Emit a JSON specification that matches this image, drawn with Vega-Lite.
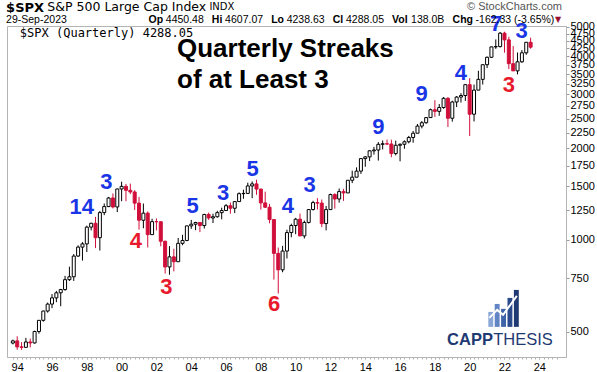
{
  "$schema": "https://vega.github.io/schema/vega-lite/v6.json",
  "width": 559,
  "height": 331,
  "autosize": {"type": "none"},
  "padding": {"left": 7, "top": 26, "right": 31, "bottom": 15},
  "background": "white",
  "config": {"view": {"stroke": "#b4b4b4", "strokeWidth": 1}, "font": "Liberation Sans"},
  "resolve": {"axis": {"x": "independent"}},
  "datasets": {
    "q": [
      {"t":1993.75,"o":458.93,"h":470.94,"l":454.36,"c":466.45},
      {"t":1994.00,"o":466.45,"h":482.85,"l":436.16,"c":445.77},
      {"t":1994.25,"o":445.77,"h":462.12,"l":435.86,"c":444.27},
      {"t":1994.50,"o":444.27,"h":477.14,"l":443.55,"c":462.69},
      {"t":1994.75,"o":462.69,"h":474.74,"l":444.18,"c":459.27},
      {"t":1995.00,"o":459.27,"h":503.90,"l":457.20,"c":500.71},
      {"t":1995.25,"o":500.71,"h":546.03,"l":492.63,"c":544.75},
      {"t":1995.50,"o":544.75,"h":586.01,"l":539.40,"c":584.41},
      {"t":1995.75,"o":584.41,"h":622.88,"l":577.30,"c":615.93},
      {"t":1996.00,"o":615.93,"h":664.23,"l":597.29,"c":645.50},
      {"t":1996.25,"o":645.50,"h":680.32,"l":624.84,"c":670.63},
      {"t":1996.50,"o":670.63,"h":690.88,"l":605.88,"c":687.31},
      {"t":1996.75,"o":687.31,"h":762.12,"l":681.40,"c":740.74},
      {"t":1997.00,"o":740.74,"h":817.04,"l":733.54,"c":757.12},
      {"t":1997.25,"o":757.12,"h":898.70,"l":733.54,"c":885.14},
      {"t":1997.50,"o":885.14,"h":960.32,"l":879.00,"c":947.28},
      {"t":1997.75,"o":947.28,"h":983.79,"l":855.27,"c":970.43},
      {"t":1998.00,"o":970.43,"h":1113.06,"l":912.83,"c":1101.75},
      {"t":1998.25,"o":1101.75,"h":1138.49,"l":1074.67,"c":1133.84},
      {"t":1998.50,"o":1133.84,"h":1190.58,"l":939.98,"c":1017.01},
      {"t":1998.75,"o":1017.01,"h":1244.93,"l":923.32,"c":1229.23},
      {"t":1999.00,"o":1229.23,"h":1316.55,"l":1205.46,"c":1286.37},
      {"t":1999.25,"o":1286.37,"h":1383.48,"l":1281.40,"c":1372.71},
      {"t":1999.50,"o":1372.71,"h":1420.33,"l":1268.37,"c":1282.71},
      {"t":1999.75,"o":1282.71,"h":1473.10,"l":1233.70,"c":1469.25},
      {"t":2000.00,"o":1469.25,"h":1552.87,"l":1339.40,"c":1498.58},
      {"t":2000.25,"o":1498.58,"h":1527.19,"l":1339.40,"c":1454.60},
      {"t":2000.50,"o":1454.60,"h":1530.09,"l":1413.89,"c":1436.51},
      {"t":2000.75,"o":1436.51,"h":1454.82,"l":1254.07,"c":1320.28},
      {"t":2001.00,"o":1320.28,"h":1383.37,"l":1081.19,"c":1160.33},
      {"t":2001.25,"o":1160.33,"h":1316.27,"l":1091.99,"c":1224.42},
      {"t":2001.50,"o":1224.42,"h":1239.78,"l":944.75,"c":1040.94},
      {"t":2001.75,"o":1040.94,"h":1173.62,"l":1037.46,"c":1148.08},
      {"t":2002.00,"o":1148.08,"h":1176.97,"l":1074.36,"c":1147.39},
      {"t":2002.25,"o":1147.39,"h":1147.84,"l":952.92,"c":989.82},
      {"t":2002.50,"o":989.82,"h":994.46,"l":775.68,"c":815.28},
      {"t":2002.75,"o":815.28,"h":954.28,"l":768.63,"c":879.82},
      {"t":2003.00,"o":879.82,"h":935.05,"l":788.90,"c":848.18},
      {"t":2003.25,"o":848.18,"h":1015.33,"l":847.85,"c":974.50},
      {"t":2003.50,"o":974.50,"h":1039.58,"l":960.84,"c":995.97},
      {"t":2003.75,"o":995.97,"h":1112.56,"l":990.36,"c":1111.92},
      {"t":2004.00,"o":1111.92,"h":1163.23,"l":1087.16,"c":1126.21},
      {"t":2004.25,"o":1126.21,"h":1146.34,"l":1076.32,"c":1140.84},
      {"t":2004.50,"o":1140.84,"h":1140.84,"l":1060.72,"c":1114.58},
      {"t":2004.75,"o":1114.58,"h":1217.90,"l":1090.19,"c":1211.92},
      {"t":2005.00,"o":1211.92,"h":1229.11,"l":1163.69,"c":1180.59},
      {"t":2005.25,"o":1180.59,"h":1219.59,"l":1136.15,"c":1191.33},
      {"t":2005.50,"o":1191.33,"h":1245.86,"l":1183.55,"c":1228.81},
      {"t":2005.75,"o":1228.81,"h":1275.80,"l":1168.20,"c":1248.29},
      {"t":2006.00,"o":1248.29,"h":1310.88,"l":1245.74,"c":1294.83},
      {"t":2006.25,"o":1294.83,"h":1326.70,"l":1219.29,"c":1270.20},
      {"t":2006.50,"o":1270.20,"h":1340.28,"l":1224.54,"c":1335.85},
      {"t":2006.75,"o":1335.85,"h":1431.81,"l":1331.95,"c":1418.30},
      {"t":2007.00,"o":1418.30,"h":1461.57,"l":1363.98,"c":1420.86},
      {"t":2007.25,"o":1420.86,"h":1540.56,"l":1416.37,"c":1503.35},
      {"t":2007.50,"o":1503.35,"h":1555.90,"l":1370.60,"c":1526.75},
      {"t":2007.75,"o":1526.75,"h":1576.09,"l":1406.10,"c":1468.36},
      {"t":2008.00,"o":1468.36,"h":1471.77,"l":1256.98,"c":1322.70},
      {"t":2008.25,"o":1322.70,"h":1440.24,"l":1272.00,"c":1280.00},
      {"t":2008.50,"o":1280.00,"h":1313.15,"l":1133.50,"c":1166.36},
      {"t":2008.75,"o":1166.36,"h":1167.03,"l":741.02,"c":903.25},
      {"t":2009.00,"o":903.25,"h":943.85,"l":666.79,"c":797.87},
      {"t":2009.25,"o":797.87,"h":956.23,"l":783.32,"c":919.32},
      {"t":2009.50,"o":919.32,"h":1080.15,"l":869.32,"c":1057.08},
      {"t":2009.75,"o":1057.08,"h":1130.38,"l":1020.18,"c":1115.10},
      {"t":2010.00,"o":1115.10,"h":1180.69,"l":1044.50,"c":1169.43},
      {"t":2010.25,"o":1169.43,"h":1219.80,"l":1028.33,"c":1030.71},
      {"t":2010.50,"o":1030.71,"h":1157.16,"l":1010.91,"c":1141.20},
      {"t":2010.75,"o":1141.20,"h":1262.60,"l":1131.87,"c":1257.64},
      {"t":2011.00,"o":1257.64,"h":1344.07,"l":1249.05,"c":1325.83},
      {"t":2011.25,"o":1325.83,"h":1370.58,"l":1258.07,"c":1320.64},
      {"t":2011.50,"o":1320.64,"h":1356.48,"l":1101.54,"c":1131.42},
      {"t":2011.75,"o":1131.42,"h":1292.66,"l":1074.77,"c":1257.60},
      {"t":2012.00,"o":1257.60,"h":1419.15,"l":1258.86,"c":1408.47},
      {"t":2012.25,"o":1408.47,"h":1422.38,"l":1266.74,"c":1362.16},
      {"t":2012.50,"o":1362.16,"h":1474.51,"l":1325.41,"c":1440.67},
      {"t":2012.75,"o":1440.67,"h":1470.96,"l":1343.35,"c":1426.19},
      {"t":2013.00,"o":1426.19,"h":1570.28,"l":1426.19,"c":1569.19},
      {"t":2013.25,"o":1569.19,"h":1687.18,"l":1536.03,"c":1606.28},
      {"t":2013.50,"o":1606.28,"h":1729.86,"l":1604.57,"c":1681.55},
      {"t":2013.75,"o":1681.55,"h":1849.44,"l":1646.47,"c":1848.36},
      {"t":2014.00,"o":1848.36,"h":1883.97,"l":1737.92,"c":1872.34},
      {"t":2014.25,"o":1872.34,"h":1968.17,"l":1814.36,"c":1960.23},
      {"t":2014.50,"o":1960.23,"h":2019.26,"l":1904.78,"c":1972.29},
      {"t":2014.75,"o":1972.29,"h":2093.55,"l":1820.66,"c":2058.90},
      {"t":2015.00,"o":2058.90,"h":2119.59,"l":1980.90,"c":2067.89},
      {"t":2015.25,"o":2067.89,"h":2134.72,"l":2048.38,"c":2063.11},
      {"t":2015.50,"o":2063.11,"h":2132.82,"l":1867.01,"c":1920.03},
      {"t":2015.75,"o":1920.03,"h":2116.48,"l":1893.70,"c":2043.94},
      {"t":2016.00,"o":2043.94,"h":2072.21,"l":1810.10,"c":2059.74},
      {"t":2016.25,"o":2059.74,"h":2120.55,"l":1991.68,"c":2098.86},
      {"t":2016.50,"o":2098.86,"h":2193.81,"l":2074.02,"c":2168.27},
      {"t":2016.75,"o":2168.27,"h":2277.53,"l":2083.79,"c":2238.83},
      {"t":2017.00,"o":2238.83,"h":2400.98,"l":2245.13,"c":2362.72},
      {"t":2017.25,"o":2362.72,"h":2453.82,"l":2322.25,"c":2423.41},
      {"t":2017.50,"o":2423.41,"h":2519.44,"l":2405.70,"c":2519.36},
      {"t":2017.75,"o":2519.36,"h":2694.97,"l":2520.40,"c":2673.61},
      {"t":2018.00,"o":2673.61,"h":2872.87,"l":2532.69,"c":2640.87},
      {"t":2018.25,"o":2640.87,"h":2791.47,"l":2553.80,"c":2718.37},
      {"t":2018.50,"o":2718.37,"h":2940.91,"l":2691.99,"c":2913.98},
      {"t":2018.75,"o":2913.98,"h":2939.86,"l":2346.58,"c":2506.85},
      {"t":2019.00,"o":2506.85,"h":2860.31,"l":2443.96,"c":2834.40},
      {"t":2019.25,"o":2834.40,"h":2964.15,"l":2728.81,"c":2941.76},
      {"t":2019.50,"o":2941.76,"h":3027.98,"l":2822.12,"c":2976.74},
      {"t":2019.75,"o":2976.74,"h":3247.93,"l":2855.96,"c":3230.78},
      {"t":2020.00,"o":3230.78,"h":3393.52,"l":2191.86,"c":2584.59},
      {"t":2020.25,"o":2584.59,"h":3233.13,"l":2447.49,"c":3100.29},
      {"t":2020.50,"o":3100.29,"h":3588.11,"l":3100.29,"c":3363.00},
      {"t":2020.75,"o":3363.00,"h":3760.20,"l":3233.94,"c":3756.07},
      {"t":2021.00,"o":3756.07,"h":3994.41,"l":3662.71,"c":3972.89},
      {"t":2021.25,"o":3972.89,"h":4302.43,"l":3955.31,"c":4297.50},
      {"t":2021.50,"o":4297.50,"h":4545.85,"l":4233.13,"c":4307.54},
      {"t":2021.75,"o":4307.54,"h":4808.93,"l":4278.94,"c":4766.18},
      {"t":2022.00,"o":4766.18,"h":4818.62,"l":4114.65,"c":4530.41},
      {"t":2022.25,"o":4530.41,"h":4637.30,"l":3636.87,"c":3785.38},
      {"t":2022.50,"o":3785.38,"h":4325.28,"l":3584.13,"c":3585.62},
      {"t":2022.75,"o":3585.62,"h":4119.10,"l":3491.58,"c":3839.50},
      {"t":2023.00,"o":3839.50,"h":4195.44,"l":3808.86,"c":4109.31},
      {"t":2023.25,"o":4109.31,"h":4458.48,"l":4048.28,"c":4450.38},
      {"t":2023.50,"o":4450.48,"h":4607.07,"l":4238.63,"c":4288.05}
    ],
    "streaks": [
      {"n":"14","t":1997.708,"v":1283,"dir":"up"},
      {"n":"3","t":1999.124,"v":1550,"dir":"up"},
      {"n":"4","t":2000.817,"v":992,"dir":"down"},
      {"n":"3","t":2002.567,"v":701,"dir":"down"},
      {"n":"5","t":2004.085,"v":1293,"dir":"up"},
      {"n":"3","t":2005.835,"v":1426,"dir":"up"},
      {"n":"5","t":2007.528,"v":1709,"dir":"up"},
      {"n":"6","t":2008.770,"v":617,"dir":"down"},
      {"n":"4","t":2009.560,"v":1293,"dir":"up"},
      {"n":"3","t":2010.801,"v":1515,"dir":"up"},
      {"n":"9","t":2014.752,"v":2347,"dir":"up"},
      {"n":"9","t":2017.235,"v":3011,"dir":"up"},
      {"n":"4","t":2019.492,"v":3529,"dir":"up"},
      {"n":"7","t":2021.524,"v":5109,"dir":"up"},
      {"n":"3","t":2022.991,"v":4846,"dir":"up"},
      {"n":"3","t":2022.257,"v":3223,"dir":"down"}
    ],
    "title": [
      {"txt":"Quarterly Streaks","t":2003.182,"v":3991},
      {"txt":"of at Least 3","t":2003.182,"v":3151}
    ],
    "hdrBold": [
      {"txt":"Op","t":2001.545,"v":5265},
      {"txt":"Hi","t":2005.185,"v":5265},
      {"txt":"Lo","t":2008.594,"v":5265},
      {"txt":"Cl","t":2012.132,"v":5265},
      {"txt":"Vol","t":2015.541,"v":5265},
      {"txt":"Chg","t":2019.017,"v":5265}
    ],
    "hdrReg": [
      {"txt":"29-Sep-2023","t":1993.362,"v":5265},
      {"txt":"4450.48","t":2002.538,"v":5265},
      {"txt":"4607.07","t":2005.947,"v":5265},
      {"txt":"4238.63","t":2009.485,"v":5265},
      {"txt":"4288.05","t":2012.894,"v":5265},
      {"txt":"138.0B","t":2016.630,"v":5265},
      {"txt":"-162.33 (-3.65%)","t":2020.337,"v":5265}
    ],
    "hdrTop": [
      {"txt":"S&P 500 Large Cap Index","t":1995.733,"v":5808}
    ],
    "hdrIndx": [
      {"txt":"INDX","t":2005.044,"v":5808}
    ],
    "symbol": [{"txt":"$SPX","t":1993.362,"v":5780}],
    "credit": [{"txt":"© StockCharts.com","t":2025.303,"v":5808}],
    "arrow": [{"txt":"▼","t":2025.078,"v":5265}],
    "legend": [{"txt":"$SPX (Quarterly) 4288.05","t":1994.152,"v":4773}],
    "brandBold": [{"txt":"CAPP","t":2018.70,"v":452.6}],
    "brandReg": [{"txt":"THESIS","t":2021.353,"v":452.6}],
    "logoBars": [
      {"k":"a","t0":2021.071,"t1":2021.353,"top":580.6,"base":518.5},
      {"k":"b","t0":2021.438,"t1":2021.720,"top":616.6,"base":518.5},
      {"k":"c","t0":2021.805,"t1":2022.087,"top":594.1,"base":518.5},
      {"k":"d","t0":2022.172,"t1":2022.454,"top":645.3,"base":518.5},
      {"k":"e","t0":2022.540,"t1":2022.822,"top":685.5,"base":518.5}
    ],
    "logoArrow": [
      {"i":1,"t":2021.128,"v":554.8},
      {"i":2,"t":2021.580,"v":589.6},
      {"i":3,"t":2021.919,"v":567.7},
      {"i":4,"t":2022.709,"v":655.3}
    ]
  },
  "layer": [
    {
      "data": {"name": "q"},
      "mark": {"type": "rule", "strokeWidth": 1},
      "encoding": {
        "x": {"field": "t", "type": "quantitative",
          "scale": {"domain": [1993.701, 2025.247], "nice": false, "zero": false},
          "axis": {"orient": "bottom", "title": null, "grid": false, "domain": false,
            "values": [1994,1996,1998,2000,2002,2004,2006,2008,2010,2012,2014,2016,2018,2020,2022,2024],
            "labelExpr": "slice(format(datum.value, 'd'), 2)",
            "labelOverlap": false, "labelFlush": false,
            "tickSize": 2, "tickColor": "#b4b4b4",
            "labelFontSize": 11, "labelColor": "#000000", "labelPadding": 2, "labelFont": "Liberation Sans"}},
        "y": {"field": "l", "type": "quantitative",
          "scale": {"type": "log", "domain": [413, 5032], "nice": false, "zero": false},
          "axis": {"orient": "right", "title": null, "grid": false,
            "values": [500,750,1000,1250,1500,1750,2000,2250,2500,2750,3000,3250,3500,3750,4000,4250,4500,4750,5000],
            "format": "d", "labelOverlap": false, "labelFlush": false,
            "tickSize": 3, "tickColor": "#999999", "domainColor": "#b4b4b4",
            "labelFontSize": 11, "labelColor": "#000000", "labelPadding": 1, "labelFont": "Liberation Sans"}},
        "y2": {"field": "h"},
        "color": {"condition": {"test": "datum.c < datum.o", "value": "#d10f3b"}, "value": "#000000"}
      }
    },
    {
      "data": {"name": "q"},
      "mark": {"type": "bar", "width": 3, "strokeWidth": 1},
      "encoding": {
        "x": {"field": "t", "type": "quantitative",
          "scale": {"domain": [1993.701, 2025.247], "nice": false, "zero": false},
          "axis": {"orient": "bottom", "title": null, "grid": false, "labels": false,
            "values": [1993.75,1994,1994.25,1994.5,1994.75,1995,1995.25,1995.5,1995.75,1996,1996.25,1996.5,1996.75,1997,1997.25,1997.5,1997.75,1998,1998.25,1998.5,1998.75,1999,1999.25,1999.5,1999.75,2000,2000.25,2000.5,2000.75,2001,2001.25,2001.5,2001.75,2002,2002.25,2002.5,2002.75,2003,2003.25,2003.5,2003.75,2004,2004.25,2004.5,2004.75,2005,2005.25,2005.5,2005.75,2006,2006.25,2006.5,2006.75,2007,2007.25,2007.5,2007.75,2008,2008.25,2008.5,2008.75,2009,2009.25,2009.5,2009.75,2010,2010.25,2010.5,2010.75,2011,2011.25,2011.5,2011.75,2012,2012.25,2012.5,2012.75,2013,2013.25,2013.5,2013.75,2014,2014.25,2014.5,2014.75,2015,2015.25,2015.5,2015.75,2016,2016.25,2016.5,2016.75,2017,2017.25,2017.5,2017.75,2018,2018.25,2018.5,2018.75,2019,2019.25,2019.5,2019.75,2020,2020.25,2020.5,2020.75,2021,2021.25,2021.5,2021.75,2022,2022.25,2022.5,2022.75,2023,2023.25,2023.5,2023.75,2024,2024.25,2024.5,2024.75,2025],
            "tickSize": 2, "tickColor": "#b4b4b4", "domainColor": "#b4b4b4"}},
        "y": {"field": "o", "type": "quantitative", "scale": {"type": "log", "domain": [413, 5032], "nice": false, "zero": false}},
        "y2": {"field": "c"},
        "fill": {"condition": {"test": "datum.c < datum.o", "value": "#d10f3b"}, "value": "#ffffff"},
        "stroke": {"condition": {"test": "datum.c < datum.o", "value": "#d10f3b"}, "value": "#000000"}
      }
    },
    {
      "data": {"name": "logoBars"},
      "mark": {"type": "bar"},
      "encoding": {
        "x": {"field": "t0", "type": "quantitative", "axis": null},
        "x2": {"field": "t1"},
        "y": {"field": "base", "type": "quantitative"},
        "y2": {"field": "top"},
        "fill": {"field": "k", "type": "nominal", "scale": {"domain": ["a","b","c","d","e"], "range": ["#8aa6d6","#6284c4","#3f63a8","#2a4a8c","#1f3a72"]}, "legend": null}
      }
    },
    {
      "data": {"name": "logoArrow"},
      "mark": {"type": "line", "color": "#ffffff", "strokeWidth": 2},
      "encoding": {
        "x": {"field": "t", "type": "quantitative", "axis": null},
        "y": {"field": "v", "type": "quantitative"},
        "order": {"field": "i"}
      }
    },
    {
      "data": {"name": "streaks"},
      "mark": {"type": "text", "fontSize": 22, "fontWeight": "bold", "align": "center", "baseline": "middle", "font": "Liberation Sans"},
      "encoding": {
        "x": {"field": "t", "type": "quantitative", "axis": null},
        "y": {"field": "v", "type": "quantitative"},
        "text": {"field": "n"},
        "color": {"field": "dir", "type": "nominal", "scale": {"domain": ["up", "down"], "range": ["#1a35e6", "#e8192c"]}, "legend": null}
      }
    },
    {
      "data": {"name": "title"},
      "mark": {"type": "text", "fontSize": 26, "fontWeight": "bold", "align": "left", "baseline": "alphabetic", "color": "#000000", "font": "Liberation Sans"},
      "encoding": {
        "x": {"field": "t", "type": "quantitative", "axis": null},
        "y": {"field": "v", "type": "quantitative"},
        "text": {"field": "txt"}
      }
    },
    {
      "data": {"name": "hdrBold"},
      "mark": {"type": "text", "fontSize": 10.5, "fontWeight": "bold", "align": "left", "baseline": "middle", "color": "#000000", "font": "Liberation Sans"},
      "encoding": {"x": {"field": "t", "type": "quantitative", "axis": null}, "y": {"field": "v", "type": "quantitative"}, "text": {"field": "txt"}}
    },
    {
      "data": {"name": "hdrReg"},
      "mark": {"type": "text", "fontSize": 10.5, "align": "left", "baseline": "middle", "color": "#000000", "font": "Liberation Sans"},
      "encoding": {"x": {"field": "t", "type": "quantitative", "axis": null}, "y": {"field": "v", "type": "quantitative"}, "text": {"field": "txt"}}
    },
    {
      "data": {"name": "hdrTop"},
      "mark": {"type": "text", "fontSize": 12.5, "align": "left", "baseline": "middle", "color": "#000000", "font": "DejaVu Sans"},
      "encoding": {"x": {"field": "t", "type": "quantitative", "axis": null}, "y": {"field": "v", "type": "quantitative"}, "text": {"field": "txt"}}
    },
    {
      "data": {"name": "hdrIndx"},
      "mark": {"type": "text", "fontSize": 10, "align": "left", "baseline": "middle", "color": "#000000", "font": "DejaVu Sans"},
      "encoding": {"x": {"field": "t", "type": "quantitative", "axis": null}, "y": {"field": "v", "type": "quantitative"}, "text": {"field": "txt"}}
    },
    {
      "data": {"name": "symbol"},
      "mark": {"type": "text", "fontSize": 13, "fontWeight": "bold", "align": "left", "baseline": "middle", "color": "#000000", "font": "DejaVu Sans"},
      "encoding": {"x": {"field": "t", "type": "quantitative", "axis": null}, "y": {"field": "v", "type": "quantitative"}, "text": {"field": "txt"}}
    },
    {
      "data": {"name": "credit"},
      "mark": {"type": "text", "fontSize": 11, "align": "right", "baseline": "middle", "color": "#555555", "font": "Liberation Sans"},
      "encoding": {"x": {"field": "t", "type": "quantitative", "axis": null}, "y": {"field": "v", "type": "quantitative"}, "text": {"field": "txt"}}
    },
    {
      "data": {"name": "arrow"},
      "mark": {"type": "text", "fontSize": 8, "align": "center", "baseline": "middle", "color": "#9b1030", "font": "DejaVu Sans"},
      "encoding": {"x": {"field": "t", "type": "quantitative", "axis": null}, "y": {"field": "v", "type": "quantitative"}, "text": {"field": "txt"}}
    },
    {
      "data": {"name": "legend"},
      "mark": {"type": "text", "fontSize": 12, "align": "left", "baseline": "middle", "color": "#000000", "font": "DejaVu Sans Mono"},
      "encoding": {"x": {"field": "t", "type": "quantitative", "axis": null}, "y": {"field": "v", "type": "quantitative"}, "text": {"field": "txt"}}
    },
    {
      "data": {"name": "brandBold"},
      "mark": {"type": "text", "fontSize": 16.5, "fontWeight": "bold", "align": "left", "baseline": "alphabetic", "color": "#1f3a72", "font": "Liberation Sans"},
      "encoding": {"x": {"field": "t", "type": "quantitative", "axis": null}, "y": {"field": "v", "type": "quantitative"}, "text": {"field": "txt"}}
    },
    {
      "data": {"name": "brandReg"},
      "mark": {"type": "text", "fontSize": 16.5, "align": "left", "baseline": "alphabetic", "color": "#1f3a72", "font": "Liberation Sans"},
      "encoding": {"x": {"field": "t", "type": "quantitative", "axis": null}, "y": {"field": "v", "type": "quantitative"}, "text": {"field": "txt"}}
    }
  ]
}
